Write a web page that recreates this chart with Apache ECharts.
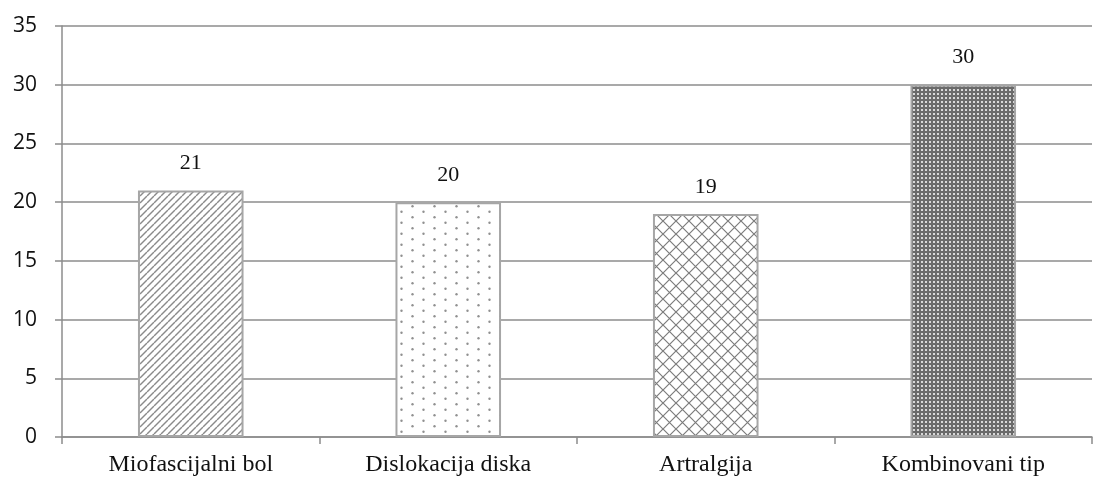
<!DOCTYPE html>
<html>
<head>
<meta charset="utf-8">
<script src="https://cdn.jsdelivr.net/npm/echarts@6/dist/echarts.min.js"></script>
<style>
  html, body { margin: 0; padding: 0; background: #fff; }
  #chart { width: 1099px; height: 479px; }
</style>
</head>
<body>
<div id="chart"></div>
<script>
// Categories and counts per diagnosis type
const categories = ['Miofascijalni bol', 'Dislokacija diska', 'Artralgija', 'Kombinovani tip'];
const counts = [21, 20, 19, 30];
const yTicks = { min: 0, max: 35, interval: 5 };

// Fill patterns drawn on small tiles
function tile(w, h, draw) {
  const c = document.createElement('canvas');
  c.width = w; c.height = h;
  const g = c.getContext('2d');
  draw(g, w, h);
  return { image: c, repeat: 'repeat' };
}

const stripes = tile(7, 7, (g, w, h) => {
  g.fillStyle = '#fff'; g.fillRect(0, 0, w, h);
  g.strokeStyle = '#8a8a8a'; g.lineWidth = 1.4;
  for (let k = -1; k <= 1; k++) {
    g.beginPath();
    g.moveTo(k * w, h); g.lineTo(k * w + w, 0);
    g.stroke();
  }
});

const dots = tile(22, 11, (g, w, h) => {
  g.fillStyle = '#fff'; g.fillRect(0, 0, w, h);
  g.fillStyle = '#909090';
  g.beginPath(); g.arc(5.5, 2.75, 1.2, 0, Math.PI * 2); g.fill();
  g.beginPath(); g.arc(16.5, 8.25, 1.2, 0, Math.PI * 2); g.fill();
});

const diamonds = tile(13, 13, (g, w, h) => {
  g.fillStyle = '#fff'; g.fillRect(0, 0, w, h);
  g.strokeStyle = '#7c7c7c'; g.lineWidth = 1.2;
  g.beginPath();
  g.moveTo(0, 0); g.lineTo(w, h);
  g.moveTo(w, 0); g.lineTo(0, h);
  g.stroke();
});

const darkDots = tile(4, 4, (g, w, h) => {
  g.fillStyle = '#6a6a6a'; g.fillRect(0, 0, w, h);
  g.fillStyle = '#d8d8d8';
  g.fillRect(1, 1, 2, 2);
});

const fills = [stripes, dots, diamonds, darkDots];

const serif = 'Liberation Serif, DejaVu Serif, serif';
const chart = echarts.init(document.getElementById('chart'), null, { renderer: 'canvas' });

chart.setOption({
  animation: false,
  backgroundColor: '#fff',
  grid: { left: 62, right: 7, top: 26, bottom: 42, containLabel: false },
  xAxis: {
    type: 'category',
    data: categories,
    boundaryGap: true,
    axisLine: { show: true, lineStyle: { color: '#8c8c8c', width: 1.5 } },
    axisTick: { show: true, length: 7, alignWithLabel: false, lineStyle: { color: '#8c8c8c', width: 1.5 } },
    axisLabel: {
      margin: 16,
      color: '#111',
      fontFamily: serif,
      fontSize: 24
    },
    splitLine: { show: false }
  },
  yAxis: {
    type: 'value',
    min: yTicks.min,
    max: yTicks.max,
    interval: yTicks.interval,
    axisLine: { show: true, lineStyle: { color: '#8c8c8c', width: 1.5 } },
    axisTick: { show: true, length: 7, lineStyle: { color: '#8c8c8c', width: 1.5 } },
    axisLabel: {
      margin: 25,
      color: '#111',
      fontFamily: 'Open Sans, DejaVu Sans, sans-serif',
      fontSize: 21
    },
    splitLine: { show: true, lineStyle: { color: '#8c8c8c', width: 1.5 } }
  },
  series: [{
    type: 'bar',
    barWidth: '41%',
    data: counts.map((v, i) => ({
      value: v,
      itemStyle: { color: fills[i], borderColor: '#a6a6a6', borderWidth: 2 }
    })),
    label: {
      show: true,
      position: 'top',
      distance: 16,
      color: '#111',
      fontFamily: serif,
      fontSize: 22
    }
  }]
});
</script>
</body>
</html>
